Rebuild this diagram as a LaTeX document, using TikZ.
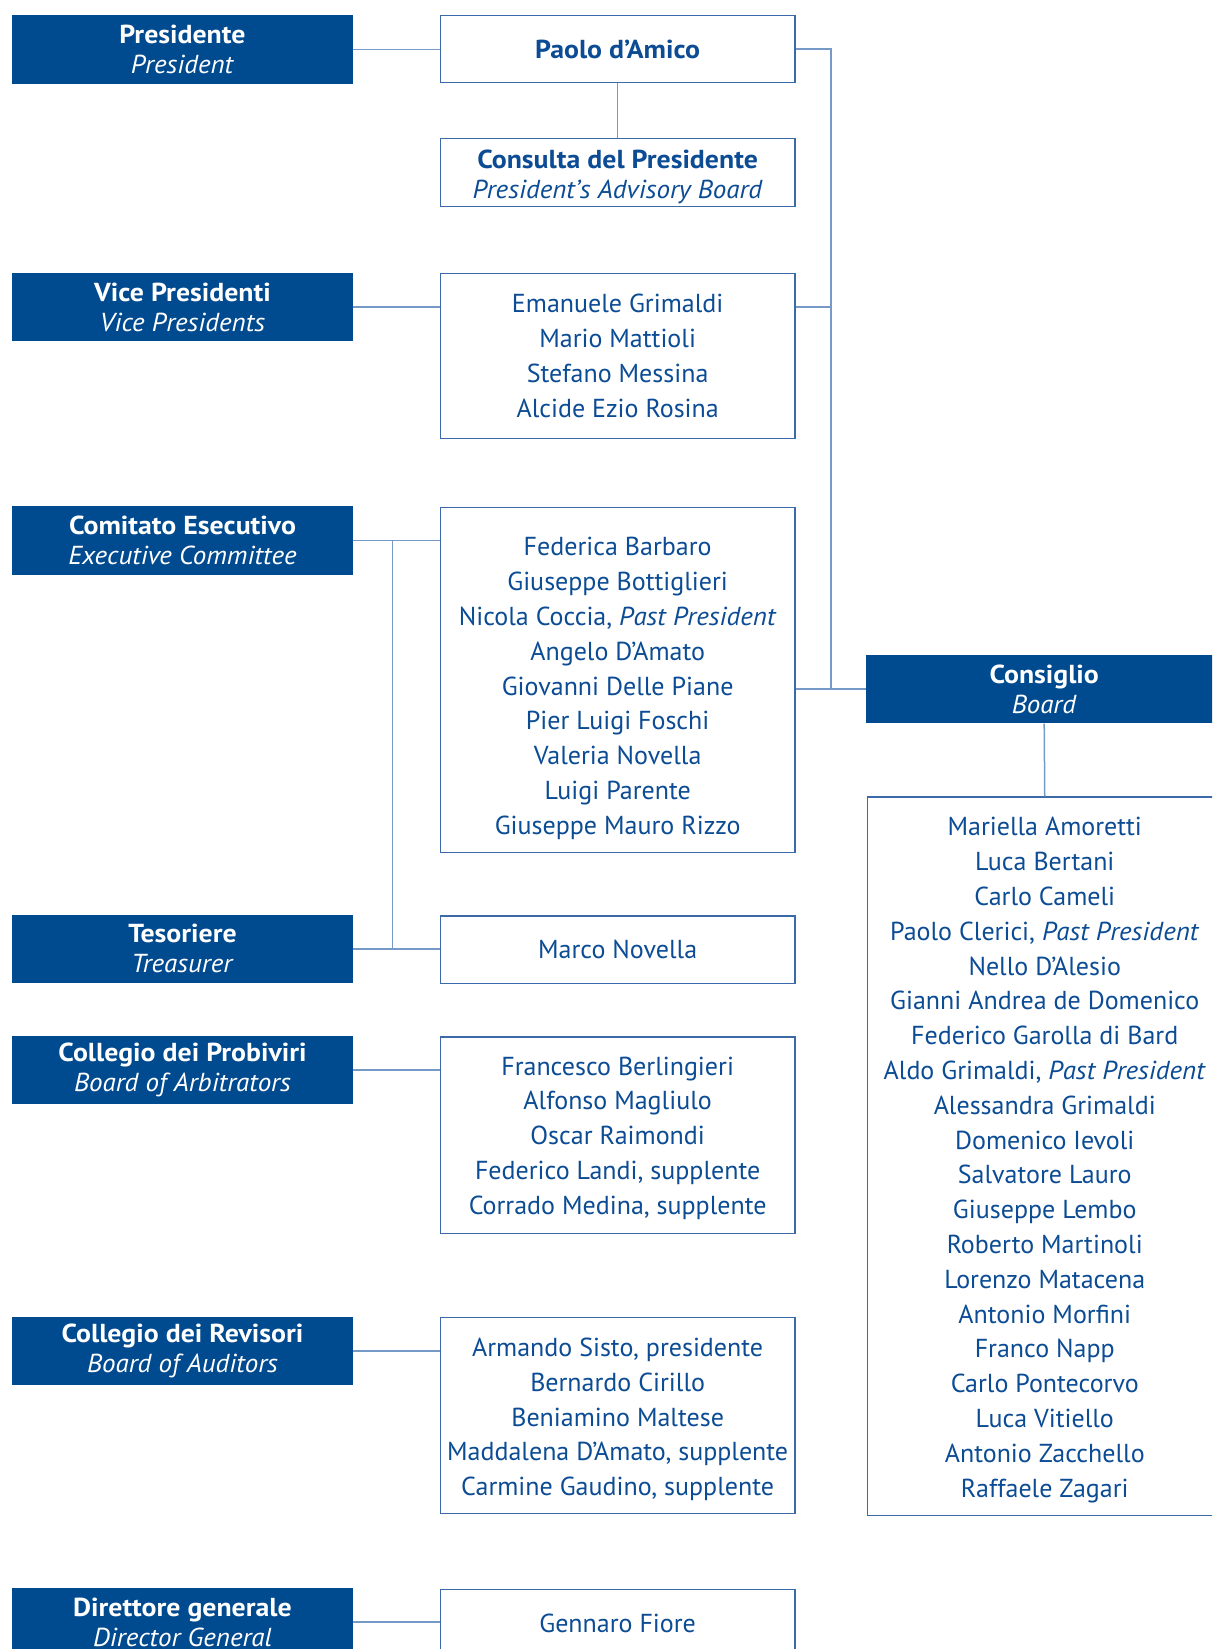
\documentclass[tikz,border=0pt]{standalone}
\usepackage{fontspec}
\setmainfont{PT Sans}[BoldFeatures={FakeStretch=1.07}, ItalicFeatures={FakeStretch=1.04}]
\usepackage{tikz}
\definecolor{anblue}{RGB}{0, 74, 143}
\definecolor{antext}{RGB}{12, 76, 148}
\definecolor{anline}{RGB}{118, 154, 200}
\definecolor{anframe}{RGB}{60, 106, 168}

\tikzset{
  rolebox/.style={fill=anblue, text=white, anchor=north west, inner sep=0pt,
    minimum width=170.5pt, minimum height=34.2pt, align=center,
    font=\fontsize{13}{15}\selectfont},
  namebox/.style={draw=anframe, line width=0.6pt, fill=white, text=antext,
    anchor=north west, inner sep=0pt, minimum width=177.25pt, align=center,
    font=\fontsize{13}{17.4}\selectfont},
  link/.style={anline, line width=0.75pt}
}
\newcommand{\toppad}[1]{\rule{0pt}{#1}}

\begin{document}
\begin{tikzpicture}[x=0.5pt, y=-0.5pt]
			\pgfmathsetmacro{\xl}{11.6}
			\pgfmathsetmacro{\xn}{439.8}
			\pgfmathsetmacro{\xc}{866}
			\useasboundingbox (0,0) rectangle (1212,1649);
			\clip (0,0) rectangle (1212,1649);
			\coordinate (trunk) at (831.2,0);
			\coordinate (fork) at (392.4,0);

			\node[rolebox] (pres) at (\xl,14.7) {\textbf{Presidente}\\\textit{President}};
			\node[namebox, minimum height=33.65pt] (paolo) at (\xn,14.7) {\textbf{Paolo d’Amico}};
			\node[namebox, minimum height=34.2pt, font=\fontsize{13}{15}\selectfont] (consulta) at (\xn,137.8)
			  {\toppad{13.5pt}\textbf{Consulta del Presidente}\\\textit{President’s Advisory Board}};

			\node[rolebox] (vice) at (\xl,272.5) {\textbf{Vice Presidenti}\\\textit{Vice Presidents}};
			\node[namebox, minimum height=82.6pt] (vicenames) at (\xn,272.5)
			  {Emanuele Grimaldi\\Mario Mattioli\\Stefano Messina\\Alcide Ezio Rosina};

			\node[rolebox] (comit) at (\xl,506) {\textbf{Comitato Esecutivo}\\\textit{Executive Committee}};
			\node[namebox, minimum height=172.5pt] (comitnames) at (\xn,507.1)
			  {\toppad{17.5pt}Federica Barbaro\\Giuseppe Bottiglieri\\Nicola Coccia, \textit{Past President}\\Angelo D’Amato\\
			   Giovanni Delle Piane\\Pier Luigi Foschi\\Valeria Novella\\Luigi Parente\\Giuseppe Mauro Rizzo};

			\node[rolebox] (tesor) at (\xl,914.3) {\textbf{Tesoriere}\\\textit{Treasurer}};
			\node[namebox, minimum height=33.65pt] (marco) at (\xn,915.3) {Marco Novella};

			\node[rolebox] (probi) at (\xl,1035.3) {\textbf{Collegio dei Probiviri}\\\textit{Board of Arbitrators}};
			\node[namebox, minimum height=98.4pt] (probinames) at (\xn,1036.3)
			  {\toppad{12pt}Francesco Berlingieri\\Alfonso Magliulo\\Oscar Raimondi\\Federico Landi, supplente\\Corrado Medina, supplente};

			\node[rolebox] (revis) at (\xl,1316.2) {\textbf{Collegio dei Revisori}\\\textit{Board of Auditors}};
			\node[namebox, minimum height=97.9pt] (revisnames) at (\xn,1317.2)
			  {\toppad{13pt}Armando Sisto, presidente\\Bernardo Cirillo\\Beniamino Maltese\\Maddalena D’Amato, supplente\\Carmine Gaudino, supplente};

			\node[rolebox] (dirgen) at (\xl,1587.6) {\textbf{Direttore generale}\\\textit{Director General}};
			\node[namebox, minimum height=33.65pt] (gennaro) at (\xn,1588.7) {Gennaro Fiore};

			\node[rolebox, minimum width=177.8pt] (consiglio) at (\xc,654.4) {\textbf{Consiglio}\\\textit{Board}};
			\node[namebox, minimum height=359.3pt] (board) at (\xc+0.9,796.4)
			  {\toppad{13pt}Mariella Amoretti\\Luca Bertani\\Carlo Cameli\\Paolo Clerici, \textit{Past President}\\Nello D’Alesio\\
			   Gianni Andrea de Domenico\\Federico Garolla di Bard\\Aldo Grimaldi, \textit{Past President}\\
			   Alessandra Grimaldi\\Domenico Ievoli\\Salvatore Lauro\\Giuseppe Lembo\\Roberto Martinoli\\
			   Lorenzo Matacena\\Antonio Morfini\\Franco Napp\\Carlo Pontecorvo\\Luca Vitiello\\
			   Antonio Zacchello\\Raffaele Zagari};

			\draw[link] (pres.east) -- (pres.east -| paolo.west);
			\draw[link] (paolo.south) -- (consulta.north);
			\draw[link] (paolo.east) -| (trunk |- consiglio.west) -- (consiglio.west);
			\draw[link] (vice.east) -- (vice.east -| vicenames.west);
			\draw[link] (vice.east -| vicenames.east) -- (trunk |- vice.east);
			\draw[link] (comit.east) -- (comit.east -| comitnames.west);
			\draw[link] (fork |- comit.east) -- (fork |- tesor.east);
			\draw[link] (tesor.east) -- (tesor.east -| marco.west);
			\draw[link] (consiglio.west -| comitnames.east) -- (consiglio.west);
			\draw[link] (probi.east) -- (probi.east -| probinames.west);
			\draw[link] (revis.east) -- (revis.east -| revisnames.west);
			\draw[link] (dirgen.east) -- (dirgen.east -| gennaro.west);
			\draw[link] (consiglio.south) -- (board.north);
		\end{tikzpicture}
\end{document}
